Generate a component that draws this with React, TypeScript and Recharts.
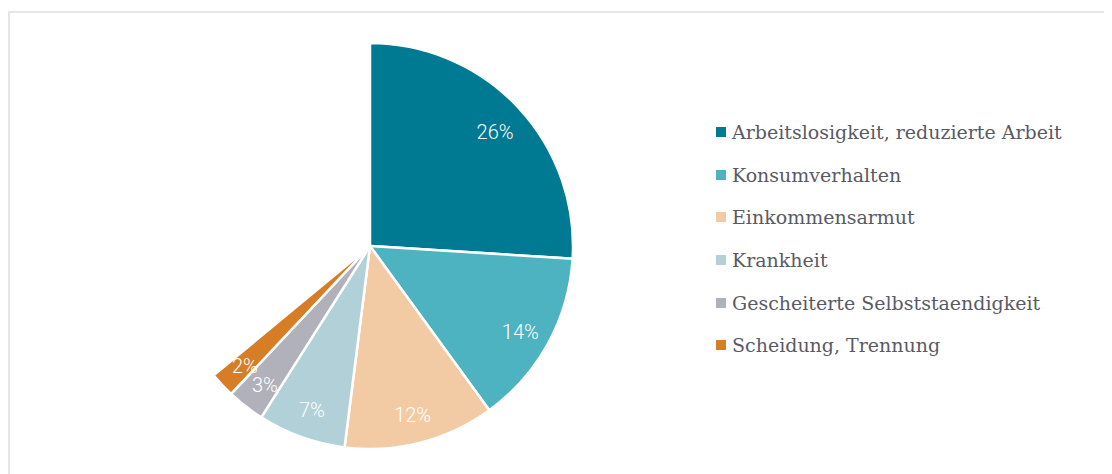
import React from 'react';
import { PieChart, Pie, Cell } from 'recharts';

const categories = [
  'Arbeitslosigkeit, reduzierte Arbeit',
  'Konsumverhalten',
  'Einkommensarmut',
  'Krankheit',
  'Gescheiterte Selbststaendigkeit',
  'Scheidung, Trennung',
];
const values = [26, 14, 12, 7, 3, 2];
const colors = ['#007A92', '#4DB3C0', '#F2CBA4', '#B2D0D8', '#B1B1BB', '#D67D26'];

const data = categories.map((name, i) => ({ name, value: values[i] }));
const total = values.reduce((a, b) => a + b, 0);
const RAD = Math.PI / 180;

const renderLabel = (props: any) => {
  const { cx, cy, midAngle, outerRadius, value } = props;
  const r = outerRadius * 0.845;
  const x = cx + r * Math.cos(-midAngle * RAD);
  const y = cy + r * Math.sin(-midAngle * RAD) + 3;
  return (
    <text
      x={x}
      y={y}
      fill="#ffffff"
      textAnchor="middle"
      dominantBaseline="central"
      style={{ fontFamily: 'Roboto', fontWeight: 300, fontSize: 20 }}
    >
      {value}%
    </text>
  );
};

export default function App() {
  return (
    <div
      style={{
        marginTop: 3,
        width: 1104,
        height: 463,
        boxSizing: 'border-box',
        borderTop: '2px solid #e6e6e6',
        borderLeft: '2px solid #e6e6e6',
        position: 'relative',
        overflow: 'hidden',
      }}
    >
      <PieChart width={1100} height={461} margin={{ top: 0, right: 0, bottom: 0, left: 0 }}>
        <Pie
          data={data}
          dataKey="value"
          nameKey="name"
          cx={360}
          cy={233}
          outerRadius={203}
          startAngle={90}
          endAngle={90 - 3.6 * total}
          stroke="#ffffff"
          strokeWidth={2.5}
          label={renderLabel}
          labelLine={false}
          isAnimationActive={false}
        >
          {data.map((d, i) => (
            <Cell key={d.name} fill={colors[i]} />
          ))}
        </Pie>
      </PieChart>
      <div style={{ position: 'absolute', left: 706, top: 98, width: 390 }}>
        {data.map((d, i) => (
          <div key={d.name} style={{ height: 42.6, display: 'flex', alignItems: 'center' }}>
            <span
              style={{
                display: 'inline-block',
                width: 10,
                height: 10,
                background: colors[i],
                marginRight: 6,
                flex: 'none',
              }}
            />
            <span
              style={{
                fontFamily: '"DejaVu Serif", serif',
                fontSize: 19,
                color: '#5a5a64',
                whiteSpace: 'nowrap',
              }}
            >
              {d.name}
            </span>
          </div>
        ))}
      </div>
    </div>
  );
}
